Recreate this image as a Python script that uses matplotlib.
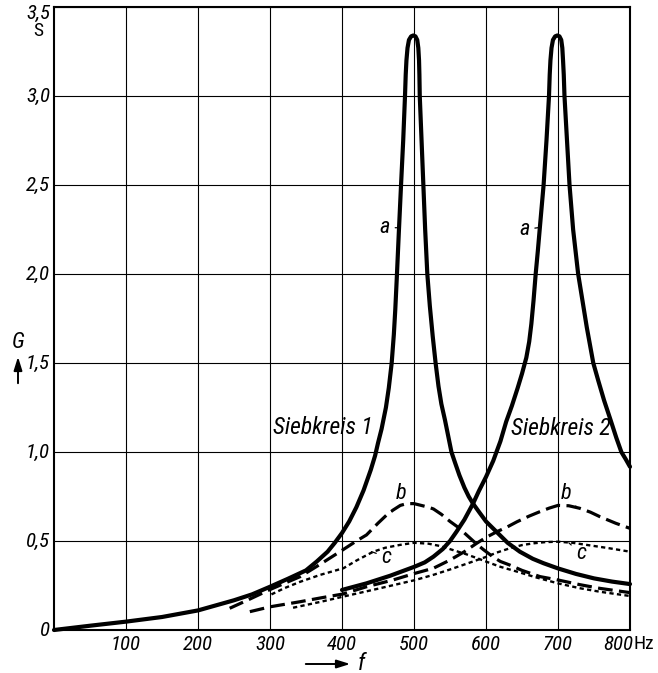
import matplotlib
matplotlib.use("Agg")
import matplotlib.pyplot as plt
from matplotlib import font_manager

# curve a: low-loss filter circuits (solid)
f_a1 = [0, 50, 100, 150, 200, 250, 275, 300, 325, 350, 365, 380, 390, 400, 410, 420, 430, 440, 446,
        450, 455, 461, 465, 469, 472, 474, 476, 479, 482, 485, 487.5,
        488.5, 489.5, 491, 493, 496, 499, 502, 504.5, 506, 507, 507.5, 508,
        510.5, 513, 515.5, 518.5, 522, 526, 530, 534, 538, 543, 548, 552, 557, 563, 570, 576, 582,
        590, 600, 615, 630, 647, 665, 680, 700, 725, 750, 775, 800]
G_a1 = [0, 0.024, 0.047, 0.073, 0.11, 0.167, 0.2, 0.243, 0.288, 0.335, 0.385, 0.44, 0.49, 0.545, 0.61, 0.69,
        0.785, 0.9, 0.98, 1.05, 1.13, 1.25, 1.36, 1.5, 1.66, 1.8, 1.97, 2.24, 2.5, 2.75, 3.0,
        3.12, 3.2, 3.27, 3.315, 3.335, 3.34, 3.335, 3.315, 3.27, 3.2, 3.12, 3.0,
        2.75, 2.5, 2.25, 2.0, 1.82, 1.65, 1.5, 1.37, 1.27, 1.18, 1.08, 1.0, 0.94, 0.87, 0.8, 0.75, 0.71,
        0.665, 0.61, 0.55, 0.49, 0.44, 0.4, 0.375, 0.346, 0.315, 0.29, 0.272, 0.258]

f_a2 = [400, 434, 467, 501, 515, 527, 540, 550, 559, 570, 582, 590, 600, 610, 620, 628, 636, 644, 650,
        656, 660, 663, 666, 669, 672, 675, 680, 684, 687.5,
        688.5, 689.5, 691, 693, 696, 699, 702, 704.5, 706, 707, 708, 709,
        712.5, 716, 721, 728, 734, 740, 749, 756, 764, 773, 781, 788, 794, 800]
G_a2 = [0.225, 0.262, 0.305, 0.356, 0.38, 0.412, 0.455, 0.5, 0.552, 0.62, 0.71, 0.78, 0.86, 0.95, 1.06,
        1.17, 1.26, 1.36, 1.44, 1.53, 1.62, 1.72, 1.85, 2.0, 2.13, 2.27, 2.5, 2.75, 3.0,
        3.12, 3.2, 3.27, 3.315, 3.335, 3.34, 3.335, 3.315, 3.27, 3.2, 3.12, 3.0,
        2.75, 2.5, 2.25, 2.0, 1.85, 1.7, 1.5, 1.4, 1.29, 1.18, 1.08, 1.0, 0.96, 0.917]

# curve b (dashed)
f_b1 = [244, 270, 301, 320, 342, 370, 401, 420, 434, 450, 463, 471, 481, 490, 500, 510, 520, 527, 538,
        550, 562, 573, 585, 596, 610, 620, 633, 650, 675, 700, 730, 758, 800]
G_b1 = [0.122, 0.17, 0.229, 0.262, 0.30, 0.37, 0.45, 0.5, 0.534, 0.6, 0.65, 0.674, 0.70, 0.71, 0.71, 0.70,
        0.69, 0.68, 0.65, 0.61, 0.575, 0.534, 0.49, 0.453, 0.41, 0.385, 0.365, 0.335, 0.30, 0.281, 0.255,
        0.234, 0.21]

f_b2 = [272, 301, 342, 370, 401, 434, 470, 501, 527, 550, 570, 587, 600, 615, 630, 643, 660, 675, 688,
        700, 715, 730, 745, 758, 780, 800]
G_b2 = [0.103, 0.131, 0.159, 0.18, 0.202, 0.243, 0.28, 0.318, 0.347, 0.393, 0.44, 0.487, 0.52, 0.552,
        0.58, 0.608, 0.64, 0.665, 0.685, 0.70, 0.698, 0.684, 0.662, 0.637, 0.60, 0.571]

# curve c (dotted)
f_c1 = [302, 320, 342, 370, 402, 420, 443.5, 460, 480.5, 500, 520, 536, 555, 573, 590, 601, 620, 643,
        670, 700, 730, 758, 800]
G_c1 = [0.20, 0.235, 0.271, 0.31, 0.347, 0.39, 0.44, 0.462, 0.478, 0.49, 0.485, 0.472, 0.448, 0.425,
        0.40, 0.383, 0.355, 0.328, 0.295, 0.262, 0.235, 0.215, 0.191]

f_c2 = [332, 370, 401, 450, 501, 527, 550, 575, 601, 615, 633, 650, 666, 683, 700, 720, 740, 770, 800]
G_c2 = [0.125, 0.158, 0.187, 0.232, 0.28, 0.31, 0.34, 0.375, 0.412, 0.435, 0.459, 0.477, 0.487, 0.494,
        0.496, 0.49, 0.478, 0.46, 0.44]

x_ticks = [100, 200, 300, 400, 500, 600, 700, 800]
y_ticks = [0, 0.5, 1.0, 1.5, 2.0, 2.5, 3.0, 3.5]
y_labels = ["0", "0,5", "1,0", "1,5", "2,0", "2,5", "3,0", "3,5"]

names = {f.name for f in font_manager.fontManager.ttflist}
narrow = next((n for n in ("Liberation Sans Narrow", "DejaVu Sans Condensed", "Roboto Condensed")
               if n in names), "DejaVu Sans")
plt.rcParams["font.family"] = narrow

fig = plt.figure(figsize=(6.58, 6.73), dpi=100)
ax = fig.add_axes([54 / 658, 43 / 673, 576 / 658, 623 / 673])
ax.set_xlim(0, 800)
ax.set_ylim(0, 3.5)

ax.set_xticks(x_ticks)
ax.set_yticks(y_ticks)
ax.grid(True, color="black", linewidth=0.8)
ax.tick_params(length=0, labelbottom=False, labelleft=False)
for sp in ax.spines.values():
    sp.set_linewidth(1.5)

solid = dict(color="black", linewidth=3.0, solid_capstyle="round", solid_joinstyle="round")
dashed = dict(color="black", linewidth=2.3, linestyle=(0, (4.6, 2.0)))
dotted = dict(color="black", linewidth=1.7, linestyle=(0, (1.8, 1.4)))

ax.plot(f_a1, G_a1, **solid, clip_on=False)
ax.plot(f_a2, G_a2, **solid, clip_on=False)
ax.plot(f_b1, G_b1, **dashed)
ax.plot(f_b2, G_b2, **dashed)
ax.plot(f_c1, G_c1, **dotted)
ax.plot(f_c2, G_c2, **dotted)

# tick labels
for x in x_ticks:
    dx = -12 if x == 800 else 0
    ax.annotate(str(x), xy=(x, 0), xytext=(dx, -14), textcoords="offset pixels",
                ha="center", va="center", fontsize=15, style="italic")
ax.annotate("Hz", xy=(800, 0), xytext=(14, -14), textcoords="offset pixels",
            ha="center", va="center", fontsize=14)
for y, lab in zip(y_ticks, y_labels):
    dy = -6 if y == 3.5 else 0
    ax.annotate(lab, xy=(0, y), xytext=(-4, dy), textcoords="offset pixels",
                ha="right", va="center", fontsize=15, style="italic")
ax.annotate("S", xy=(0, 3.5), xytext=(-16, -24), textcoords="offset pixels",
            ha="center", va="center", fontsize=14)

# axis names with arrows
fig.text(361 / 658, 1 - 663 / 673, "f", ha="center", va="center", fontsize=17, style="italic")
ax.annotate("", xy=(353, 673 - 664), xytext=(303, 673 - 664),
            xycoords="figure pixels", textcoords="figure pixels",
            arrowprops=dict(arrowstyle="-|>,head_length=0.8,head_width=0.25", color="black", lw=1.4))
fig.text(18 / 658, 1 - 342 / 673, "G", ha="center", va="center", fontsize=16, style="italic")
ax.annotate("", xy=(18, 673 - 354), xytext=(18, 673 - 386),
            xycoords="figure pixels", textcoords="figure pixels",
            arrowprops=dict(arrowstyle="-|>,head_length=0.8,head_width=0.25", color="black", lw=1.4))

# curve labels
lab = dict(ha="center", va="center", fontsize=16, style="italic",
           arrowprops=dict(arrowstyle="-", color="black", lw=0.9, shrinkA=2, shrinkB=0))
ax.annotate("a", xy=(476, 2.26), xytext=(459, 2.26), **lab)
ax.annotate("a", xy=(672, 2.26), xytext=(653, 2.25), **lab)
ax.annotate("b", xy=(469, 0.665), xytext=(482, 0.765), **lab)
ax.annotate("b", xy=(726, 0.69), xytext=(711, 0.765), **lab)
ax.annotate("c", xy=(441, 0.44), xytext=(462, 0.41), **lab)
ax.annotate("c", xy=(715, 0.49), xytext=(732, 0.427), **lab)

ax.text(374, 1.135, "Siebkreis 1", ha="center", va="center", fontsize=17, style="italic")
ax.text(704, 1.13, "Siebkreis 2", ha="center", va="center", fontsize=17, style="italic")

fig.savefig("out.png", dpi=100)
